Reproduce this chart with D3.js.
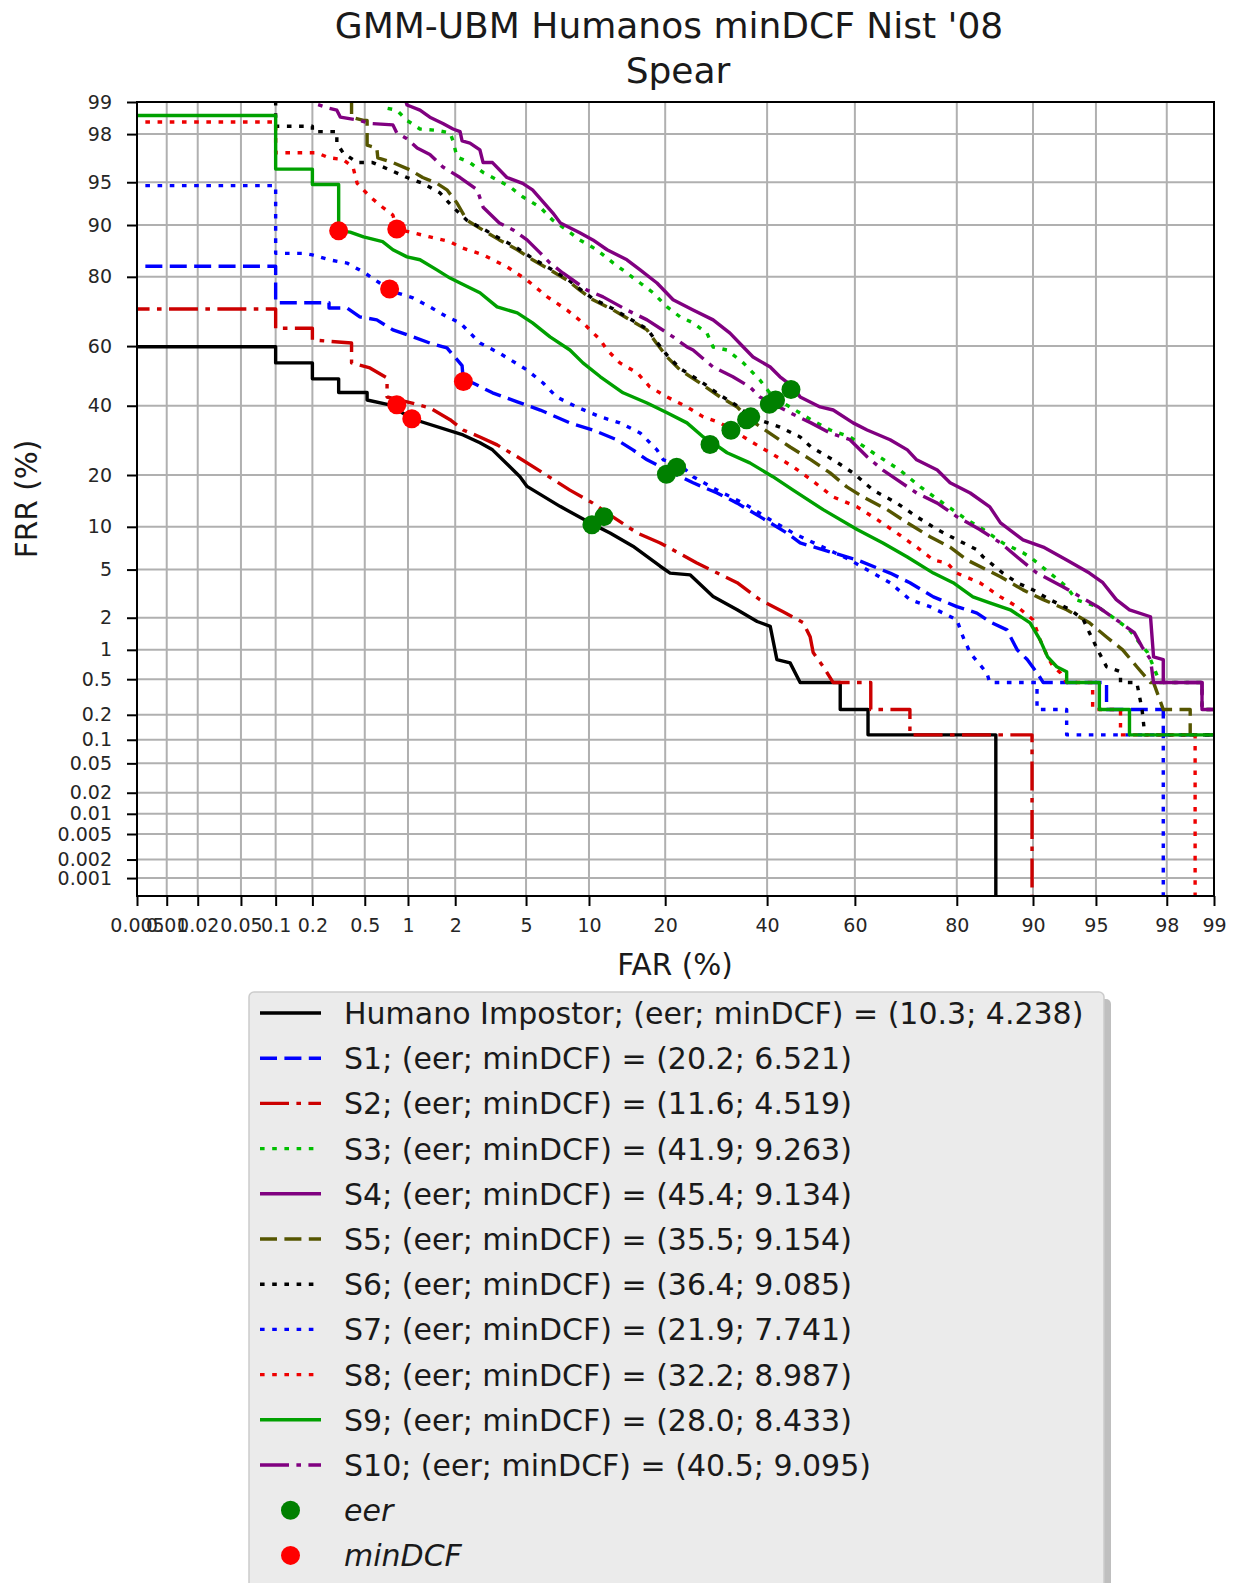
<!DOCTYPE html>
<html>
<head>
<meta charset="utf-8">
<script src="https://cdn.jsdelivr.net/npm/d3@7"></script>
<style>
  body { margin: 0; background: #fff; }
  text { font-family: "DejaVu Sans", sans-serif; }
</style>
</head>
<body>
<div id="chart"></div>
<script>
// DET curves, values in percent: [FAR, FRR]
var humano = [[0.001,59.8],[0.1,59.8],[0.1,54.4],[0.2,54.4],[0.2,49],[0.32,49],[0.32,44.4],[0.52,44.4],[0.52,41.9],[0.75,40.3],[1.06,35.8],[2.23,30.8],[2.8,28.5],[3.3,26.5],[4.65,19.6],[5.06,17.4],[7.37,13.4],[10.1,10.6],[12.3,9.1],[15.2,7.4],[19.2,5.3],[20.8,4.7],[24.3,4.55],[28.6,3.05],[33.5,2.35],[37.8,1.85],[40.7,1.67],[42.2,0.8],[45.2,0.74],[47.5,0.46],[56.7,0.46],[56.7,0.23],[62.9,0.23],[62.9,0.115],[85.7,0.115],[85.7,0]];
var s1 = [[0.001,82.4],[0.1,82.4],[0.1,73.3],[0.27,73.3],[0.27,71.8],[0.37,71.8],[0.46,69.2],[0.61,68.3],[0.79,65.2],[1.08,63.0],[1.39,61.0],[1.78,59.4],[2.2,53.5],[2.24,48.1],[2.55,47.6],[3.3,44.3],[4.5,41.3],[5.9,38.6],[8.2,34.5],[10.4,32.3],[13.1,29.4],[15.2,26.5],[17.2,23.8],[20.3,21.2],[24.8,18.2],[29.4,16.0],[33.5,14.0],[38.4,11.6],[44.5,9.1],[47.5,7.8],[60.5,5.9],[67.6,4.7],[71.6,3.95],[76,3.03],[80,2.5],[83.1,2.2],[84.9,1.84],[87.1,1.55],[88.3,1.0],[89.4,0.8],[90.4,0.585],[91.0,0.46],[95.6,0.46],[95.6,0.23],[97.9,0.23],[97.9,0.115],[99.5,0.115]];
var s2 = [[0.001,71.5],[0.1,71.5],[0.1,65.7],[0.2,65.7],[0.2,62.0],[0.4,61],[0.4,54.4],[0.545,52.7],[0.72,49.3],[0.72,42.9],[0.985,41.3],[1.39,39.3],[1.86,35.5],[2.23,32.3],[2.8,30.2],[3.5,27.9],[4.5,24.6],[6.1,20.5],[8.2,16.6],[10.4,14.0],[11.96,12.2],[15.8,9.1],[19.2,7.8],[25.5,5.6],[33.5,3.95],[38.4,2.87],[43.6,2.26],[48.2,1.81],[49.8,1.34],[50.5,0.94],[52.8,0.68],[55.1,0.46],[63.5,0.46],[63.5,0.23],[71.6,0.23],[71.6,0.115],[89.9,0.115],[89.9,0]];
var s3 = [[0.66,99.5],[0.72,98.85],[0.84,98.8],[0.985,98.5],[1.2,98.2],[1.54,98.15],[1.86,98.05],[1.94,97.7],[2.05,96.85],[2.45,96.5],[2.92,95.8],[3.5,95.2],[4.1,94.6],[4.8,93.6],[5.9,92.4],[6.8,90.7],[7.96,89.2],[9.1,87.6],[10.8,85.8],[12.7,83.1],[14.4,80.9],[16.2,78.5],[18.1,76],[20.3,72.1],[22.5,69.2],[24.8,67.4],[27.4,64.2],[28.6,59.7],[31.4,58.7],[34.8,54.4],[38.4,48.6],[41.3,42.9],[45.2,39.6],[50,35.5],[54.4,32.3],[58.9,30.2],[64,25.7],[69.6,21.2],[73.6,17.3],[77.7,14],[81.6,11.1],[84,9.6],[86.6,7.8],[88.95,6.65],[89.7,6.2],[91.6,4.7],[93,3.67],[93.7,2.87],[95.1,2.5],[96.1,1.92],[96.7,1.55],[97.1,1.17],[97.4,0.94],[97.6,0.675],[97.8,0.46],[98.8,0.46],[98.8,0.23],[99.5,0.23]];
var s4 = [[0.85,99.5],[0.985,98.93],[1.2,98.8],[1.39,98.6],[1.68,98.4],[1.94,98.2],[2.14,98.1],[2.2,97.7],[2.45,97.6],[2.8,97.25],[2.92,96.5],[3.3,96.5],[3.96,95.4],[4.8,94.9],[5.4,94.3],[6.8,91.7],[7.4,90.3],[9.1,88.8],[10.4,87.6],[11.96,85.8],[14.4,83.8],[16.2,81.6],[18.7,78.5],[21.3,74.1],[24.8,71.2],[28.6,68.3],[32,64.2],[34.8,59.7],[36.9,56.4],[40.7,53],[42.9,49.7],[45.9,46.3],[47.5,42.9],[52.1,39.6],[55.1,38.6],[59.6,34.5],[62.7,32.3],[67.6,29.4],[71.1,26.5],[72.9,23.8],[76.7,21.2],[78.9,18.2],[82.1,16],[84.9,13.3],[86.3,10.6],[88.95,8.2],[91,7.3],[93,5.9],[94.6,4.7],[95.4,3.95],[96.1,2.87],[96.7,2.35],[97.5,2.04],[97.6,0.85],[97.9,0.8],[97.9,0.46],[98.8,0.46],[98.8,0.23],[99.5,0.23]];
var s5 = [[0.4,99.5],[0.4,98.6],[0.49,98.5],[0.52,98.5],[0.52,97.5],[0.61,97.35],[0.62,96.8],[0.79,96.5],[1.03,96],[1.25,95.4],[1.54,94.9],[1.78,94.3],[2.05,92.9],[2.35,90.7],[2.92,89.2],[3.6,87.6],[4.5,85.8],[5.4,83.8],[6.6,81.6],[7.96,79.2],[9.1,76.7],[10.4,74.1],[12.7,71.2],[14.8,68.3],[17.2,65.2],[18.6,61],[20.3,56.4],[22.5,52],[26.1,47.6],[30,42.9],[33.5,39.6],[36.2,35.5],[45.2,27.3],[50,23.8],[54.4,20.5],[58.2,17.3],[61.8,15.2],[67,12.8],[71.1,10.6],[75.4,8.6],[78.9,7.3],[81.6,5.9],[86.3,4.4],[88.95,3.46],[91,2.87],[93,2.35],[94.6,1.8],[95.6,1.33],[96.4,1.0],[97,0.675],[97.5,0.46],[97.6,0.46],[97.9,0.23],[98.57,0.23],[98.57,0.115],[99.5,0.115]];
var s6 = [[0.001,99.5],[0.1,99.5],[0.1,98.3],[0.2,98.3],[0.2,98.1],[0.31,98.1],[0.31,97.6],[0.345,97.1],[0.44,96.5],[0.57,96.5],[0.75,96],[0.985,95.4],[1.25,94.9],[1.61,94],[1.94,92.4],[2.35,90.7],[2.92,89.4],[3.6,87.9],[4.5,86.1],[5.4,84.1],[6.6,81.9],[7.96,79.5],[9.1,77],[10.4,74.4],[12.7,71.5],[14.8,68.6],[17.2,65.5],[18.6,61.5],[20.3,57],[22.5,52.5],[26.1,48.3],[30,43.5],[33.5,40],[36.4,36.4],[42.9,33.2],[47.5,30.2],[50,27.3],[55.1,23.8],[59.6,20.5],[64,16.6],[69,14],[72.9,11.6],[76.7,9.6],[80,8.2],[83.1,7],[84,6.2],[86.6,4.7],[88.3,3.95],[90,3.46],[91.6,2.87],[93.3,2.35],[94.2,1.92],[94.6,1.46],[95.1,1.0],[95.6,0.675],[96.3,0.6],[96.3,0.46],[97,0.46],[97.2,0.23],[97.3,0.115],[99.5,0.115]];
var s7 = [[0.001,94.7],[0.1,94.7],[0.1,85.1],[0.17,85.1],[0.2,84.8],[0.27,83.8],[0.37,83.1],[0.49,81.1],[0.64,78.5],[0.84,76],[1.08,74.6],[1.39,72.1],[1.78,69.2],[2.14,67.4],[2.8,61.0],[3.6,57.7],[5.06,52],[6.1,47.6],[7.1,42.9],[8.8,39.6],[11.2,36.4],[13.5,34.5],[16.2,31.4],[18.7,26.5],[19.7,23.8],[22.5,22.5],[24.8,19.6],[29.4,16.6],[34.8,14.0],[40.7,11.1],[45.9,9.1],[58.9,5.9],[67.6,3.95],[71.6,2.87],[75.4,2.5],[80,1.92],[81,1.33],[82.1,0.93],[84.5,0.58],[84.9,0.46],[90.4,0.46],[90.4,0.23],[93.0,0.23],[93.0,0.115],[97.9,0.115],[97.9,0]];
var s8 = [[0.001,98.45],[0.1,98.45],[0.1,97.1],[0.217,97.1],[0.27,96.8],[0.345,96.7],[0.41,96.2],[0.44,94.9],[0.545,93.6],[0.67,92.4],[0.79,91.4],[0.84,89.4],[1.08,88.8],[1.39,88.1],[1.86,87.3],[2.14,86.3],[2.92,84.8],[3.96,82.3],[5.06,79.2],[6.4,74.9],[7.96,71.2],[9.4,67.4],[11.2,62],[11.96,58.7],[13.5,54.4],[15.8,51],[17.6,46.3],[20.3,42.9],[23.7,39.6],[26.7,36.4],[30,34.5],[33.5,31.4],[36.9,28.5],[40.7,25.7],[45.9,22],[50,18.9],[55.1,15.2],[60.5,13.3],[64.9,11.1],[69,9.1],[72.9,7.3],[76,5.9],[78.4,5.6],[80,4.7],[83.5,3.95],[86.3,3.03],[88.3,2.5],[90,1.92],[90.7,1.25],[91.4,0.85],[91.9,0.675],[92.5,0.585],[93,0.46],[94.8,0.46],[94.8,0.23],[96.3,0.23],[96.3,0.115],[98.67,0.115],[98.67,0]];
var s9 = [[0.001,98.65],[0.1,98.65],[0.1,96.05],[0.2,96.05],[0.2,94.8],[0.32,94.8],[0.32,89.1],[0.39,88.9],[0.49,88.1],[0.67,87.3],[0.79,85.8],[0.985,84.4],[1.2,83.8],[1.54,81.6],[1.86,79.7],[2.14,78.5],[2.8,76],[3.5,72.1],[4.5,70.4],[5.4,67.4],[6.6,63],[8.2,58.7],[9.4,54.4],[11.2,49.7],[13.9,44.3],[17.2,40.9],[20.3,37.7],[23.7,34.5],[26.7,30.2],[28.6,28.5],[31.4,25.7],[36.2,23],[41.3,19.6],[45.9,16.6],[52.8,12.8],[60.5,9.6],[66.1,7.8],[71.1,6.2],[76,4.7],[79.4,3.95],[82.5,3.03],[84.9,2.7],[87.5,2.35],[89.7,1.8],[90.7,1.25],[91.4,0.85],[92.2,0.675],[93,0.6],[93,0.46],[95.2,0.46],[95.2,0.23],[96.7,0.23],[96.7,0.115],[99.5,0.115]];
var s10 = [[0.19,99.5],[0.2,98.98],[0.27,98.85],[0.31,98.8],[0.33,98.6],[0.46,98.5],[0.545,98.4],[0.79,98.35],[0.84,98.05],[0.985,97.8],[1.15,97.35],[1.39,97],[1.68,96.2],[2.14,95.4],[2.7,94.3],[2.92,92.4],[3.6,90.3],[4.3,89.2],[5.06,87.6],[5.9,85.2],[6.6,83.1],[7.6,80.9],[9.8,76.7],[11.5,74.9],[14.4,71.2],[17.2,68.3],[21.3,63],[23.7,59.7],[24.8,58.7],[28.6,53],[32.6,49.7],[36.2,46.3],[38.4,42.9],[45.2,37.7],[50,34.5],[54.4,31.4],[58.9,29.4],[62.7,24.6],[66.1,21.2],[69,18.9],[72.9,16],[76.7,14],[80,11.6],[83.5,9.6],[86.3,7.8],[88.3,6.2],[90.4,4.7],[92.7,3.67],[94,3.03],[95.1,2.5],[96.1,1.92],[96.9,1.46],[97.2,1.07],[97.5,0.8],[97.6,0.46],[98.8,0.46],[98.8,0.23],[99.5,0.23]];

var labels = ["Humano Impostor", "S1", "S2", "S3", "S4", "S5", "S6", "S7", "S8", "S9", "S10"];
var eer = [10.3, 20.2, 11.6, 41.9, 45.4, 35.5, 36.4, 21.9, 32.2, 28.0, 40.5];
var minDCF = [4.238, 6.521, 4.519, 9.263, 9.134, 9.154, 9.085, 7.741, 8.987, 8.433, 9.095];
// minDCF operating points visible inside the plot [FAR, FRR]
var minDCFPoints = [[1.06,35.8],[2.24,48.1],[0.84,40.3],[0.75,77],[0.84,89.4],[0.32,89.1]];

var xTicks = [0.005, 0.01, 0.02, 0.05, 0.1, 0.2, 0.5, 1, 2, 5, 10, 20, 40, 60, 80, 90, 95, 98, 99];
var yTicks = [0.001, 0.002, 0.005, 0.01, 0.02, 0.05, 0.1, 0.2, 0.5, 1, 2, 5, 10, 20, 40, 60, 80, 90, 95, 98, 99];

// inverse normal CDF (Acklam)
function probit(p) {
  p = Math.min(Math.max(p, 1e-9), 1 - 1e-9);
  var a = [-3.969683028665376e+01, 2.209460984245205e+02, -2.759285104469687e+02, 1.383577518672690e+02, -3.066479806614716e+01, 2.506628277459239e+00];
  var b = [-5.447609879822406e+01, 1.615858368580409e+02, -1.556989798598866e+02, 6.680131188771972e+01, -1.328068155288572e+01];
  var c = [-7.784894002430293e-03, -3.223964580411365e-01, -2.400758277161838e+00, -2.549671010149620e+00, 4.374664141464968e+00, 2.938163982698783e+00];
  var d = [7.784695709041462e-03, 3.224671290700398e-01, 2.445134137142996e+00, 3.754408661907416e+00];
  var q, r;
  if (p < 0.02425) {
    q = Math.sqrt(-2 * Math.log(p));
    return (((((c[0]*q+c[1])*q+c[2])*q+c[3])*q+c[4])*q+c[5]) / ((((d[0]*q+d[1])*q+d[2])*q+d[3])*q+1);
  }
  if (p <= 1 - 0.02425) {
    q = p - 0.5; r = q * q;
    return (((((a[0]*r+a[1])*r+a[2])*r+a[3])*r+a[4])*r+a[5])*q / (((((b[0]*r+b[1])*r+b[2])*r+b[3])*r+b[4])*r+1);
  }
  q = Math.sqrt(-2 * Math.log(1 - p));
  return -(((((c[0]*q+c[1])*q+c[2])*q+c[3])*q+c[4])*q+c[5]) / ((((d[0]*q+d[1])*q+d[2])*q+d[3])*q+1);
}

var W = 1233, H = 1583;
var plotL = 137, plotT = 102, plotR = 1214, plotB = 896;

var svg = d3.select("#chart").append("svg")
  .attr("width", W).attr("height", H);
svg.append("rect").attr("width", W).attr("height", H).attr("fill", "#fff");

var x = d3.scaleLinear().domain([probit(0.00005), probit(0.99)]).range([plotL, plotR]);
var y = d3.scaleLinear().domain([probit(0.000005), probit(0.99)]).range([plotB, plotT]);
function px(v) { return x(probit(v / 100)); }
function py(v) { return y(probit(v / 100)); }

svg.append("defs").append("clipPath").attr("id", "clip")
  .append("rect").attr("x", plotL).attr("y", plotT)
  .attr("width", plotR - plotL).attr("height", plotB - plotT);

// grid
var grid = svg.append("g");
grid.selectAll(".vx").data(xTicks.slice(1)).enter().append("line")
  .attr("x1", px).attr("x2", px).attr("y1", plotT).attr("y2", plotB)
  .attr("stroke", "#b0b0b0").attr("stroke-width", 2);
grid.selectAll(".hy").data(yTicks).enter().append("line")
  .attr("y1", py).attr("y2", py).attr("x1", plotL).attr("x2", plotR)
  .attr("stroke", "#b0b0b0").attr("stroke-width", 2);

// curves
var dashed = "17,7.4", dashdot = "29,7.4,4.6,7.4", dotted = "4.6,7.6";
var series = [
  { data: humano, color: "#000000", dash: null },
  { data: s1, color: "#0000ff", dash: dashed },
  { data: s2, color: "#cc0000", dash: dashdot },
  { data: s3, color: "#00bf00", dash: dotted },
  { data: s4, color: "#800080", dash: null },
  { data: s5, color: "#555500", dash: dashed },
  { data: s6, color: "#000000", dash: dotted },
  { data: s7, color: "#0000ff", dash: dotted },
  { data: s8, color: "#ee0000", dash: dotted },
  { data: s9, color: "#00a000", dash: null },
  { data: s10, color: "#800080", dash: dashdot }
];

var line = d3.line().x(function(d) { return px(d[0]); }).y(function(d) { return py(d[1]); });

var curves = svg.append("g").attr("clip-path", "url(#clip)");
series.forEach(function(s) {
  curves.append("path")
    .attr("d", line(s.data))
    .attr("fill", "none")
    .attr("stroke", s.color)
    .attr("stroke-width", 3.4)
    .attr("stroke-linejoin", "round")
    .attr("stroke-dasharray", s.dash);
});

// eer markers (FAR = FRR)
curves.selectAll(".eer").data(eer).enter().append("circle")
  .attr("cx", function(d) { return px(d); })
  .attr("cy", function(d) { return py(d); })
  .attr("r", 9.5).attr("fill", "#008000");
curves.selectAll(".mindcf").data(minDCFPoints).enter().append("circle")
  .attr("cx", function(d) { return px(d[0]); })
  .attr("cy", function(d) { return py(d[1]); })
  .attr("r", 9.5).attr("fill", "#ff0000");

// axes
var xAxis = d3.axisBottom(x)
  .tickValues(xTicks.map(function(t) { return probit(t / 100); }))
  .tickFormat(function(d, i) { return xTicks[i]; })
  .tickSize(10).tickPadding(13);
var yAxis = d3.axisLeft(y)
  .tickValues(yTicks.map(function(t) { return probit(t / 100); }))
  .tickFormat(function(d, i) { return yTicks[i]; })
  .tickSize(10).tickPadding(15);

var gx = svg.append("g").attr("transform", "translate(0," + plotB + ")").call(xAxis);
var gy = svg.append("g").attr("transform", "translate(" + plotL + ",0)").call(yAxis);
[gx, gy].forEach(function(g) {
  g.select(".domain").remove();
  g.selectAll(".tick line").attr("stroke", "#000").attr("stroke-width", 2);
  g.selectAll(".tick text").attr("fill", "#262626")
    .style("font-family", "DejaVu Sans").style("font-size", "19px");
});

// frame
svg.append("rect").attr("x", plotL).attr("y", plotT)
  .attr("width", plotR - plotL).attr("height", plotB - plotT)
  .attr("fill", "none").attr("stroke", "#000").attr("stroke-width", 2);

// titles
svg.append("text").attr("x", 669).attr("y", 38).attr("text-anchor", "middle")
  .style("font-size", "36px").attr("fill", "#1a1a1a").text("GMM-UBM Humanos minDCF Nist '08");
svg.append("text").attr("x", 678).attr("y", 83).attr("text-anchor", "middle")
  .style("font-size", "36px").attr("fill", "#1a1a1a").text("Spear");
svg.append("text").attr("x", 675).attr("y", 975).attr("text-anchor", "middle")
  .style("font-size", "29.5px").attr("fill", "#1a1a1a").text("FAR (%)");
svg.append("text").attr("transform", "translate(37," + ((plotT + plotB) / 2) + ") rotate(-90)")
  .attr("text-anchor", "middle")
  .style("font-size", "29.5px").attr("fill", "#1a1a1a").text("FRR (%)");

// legend
var lg = svg.append("g");
lg.append("rect").attr("x", 256).attr("y", 999).attr("width", 855).attr("height", 620)
  .attr("rx", 5).attr("fill", "#808080").attr("opacity", 0.5);
lg.append("rect").attr("x", 249).attr("y", 992).attr("width", 855).attr("height", 620)
  .attr("rx", 5).attr("fill", "#ebebeb").attr("stroke", "#cccccc").attr("stroke-width", 1.5);

var rowY = function(i) { return 1013 + i * 45.2; };
series.forEach(function(s, i) {
  lg.append("line").attr("x1", 260).attr("x2", 321)
    .attr("y1", rowY(i)).attr("y2", rowY(i))
    .attr("stroke", s.color).attr("stroke-width", 3.4)
    .attr("stroke-dasharray", s.dash);
  lg.append("text").attr("x", 344).attr("y", rowY(i) + 11)
    .style("font-size", "30px").attr("fill", "#1a1a1a")
    .text(labels[i] + "; (eer; minDCF) = (" + eer[i].toFixed(1) + "; " + minDCF[i].toFixed(3) + ")");
});
[["eer", "#008000"], ["minDCF", "#ff0000"]].forEach(function(m, j) {
  var i = series.length + j;
  lg.append("circle").attr("cx", 290.5).attr("cy", rowY(i)).attr("r", 9.5).attr("fill", m[1]);
  lg.append("text").attr("x", 344).attr("y", rowY(i) + 11)
    .style("font-size", "30px").style("font-style", "italic").attr("fill", "#1a1a1a")
    .text(m[0]);
});
</script>
</body>
</html>
